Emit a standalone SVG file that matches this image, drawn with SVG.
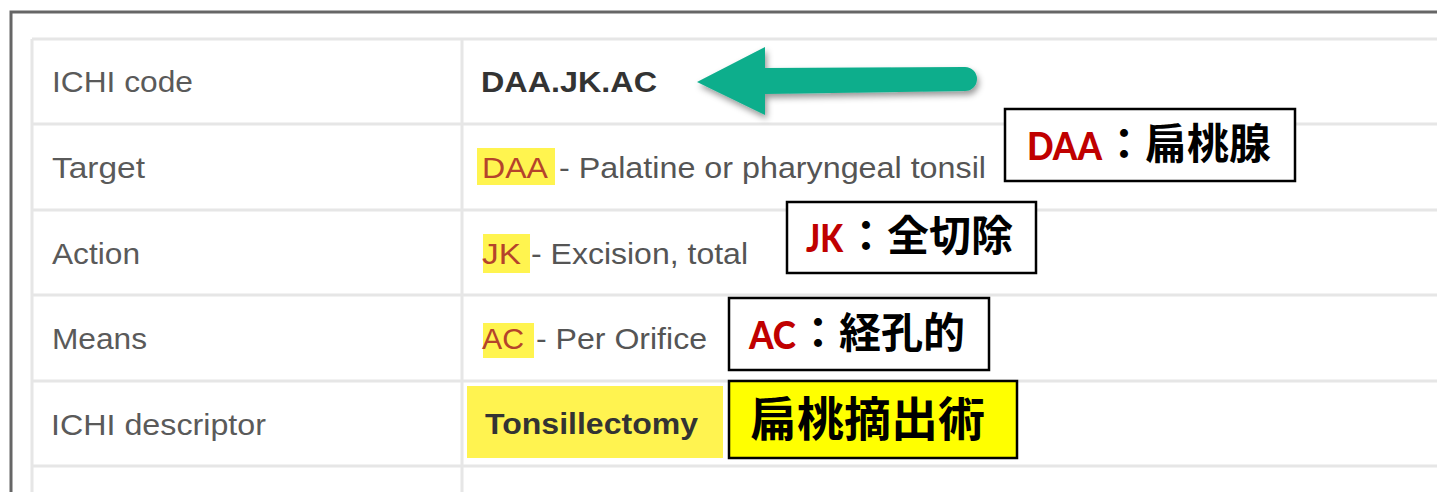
<svg xmlns="http://www.w3.org/2000/svg" width="1437" height="492" viewBox="0 0 1437 492">
<defs>
<style>
.grid{stroke:#e6e6e6;stroke-width:3;fill:none}
.lbl{font-family:"Liberation Sans",Arial,sans-serif;font-size:29px;fill:#5a5a5a}
.val{font-family:"Liberation Sans",Arial,sans-serif;font-size:29px;fill:#555}
.bold{font-family:"Liberation Sans",Arial,sans-serif;font-size:29px;font-weight:700;fill:#333}
.code{fill:#b5432b}
.hl{fill:#fff44f}
.box{fill:#fff;stroke:#000;stroke-width:2.5}
.lat{font-family:Lato,"Open Sans",sans-serif;font-weight:900;font-size:38px;fill:#c00000}
.cjk{font-family:"Noto Sans CJK JP","Noto Sans CJK SC",sans-serif;font-weight:700;font-size:42px;fill:#000}
</style>
<filter id="sh" x="-10%" y="-30%" width="130%" height="180%">
<feDropShadow dx="2" dy="4" stdDeviation="3" flood-color="#000" flood-opacity="0.4"/>
</filter>
</defs>
<rect width="1437" height="492" fill="#fff"/>
<g id="frame">
<path d="M11,492 V12 H1437" fill="none" stroke="#666" stroke-width="3"/>
</g>
<g id="table">
<path class="grid" d="M32,39 H1437 M32,124 H1437 M32,210 H1437 M32,295 H1437 M32,381 H1437 M32,466 H1437 M32,39 V492 M462,39 V492"/>
</g>
<g id="labels">
<text class="lbl" x="52" y="92" textLength="141" lengthAdjust="spacingAndGlyphs">ICHI code</text>
<text class="lbl" x="52" y="178" textLength="93" lengthAdjust="spacingAndGlyphs">Target</text>
<text class="lbl" x="52" y="264" textLength="88" lengthAdjust="spacingAndGlyphs">Action</text>
<text class="lbl" x="52" y="349" textLength="95" lengthAdjust="spacingAndGlyphs">Means</text>
<text class="lbl" x="51" y="435" textLength="215" lengthAdjust="spacingAndGlyphs">ICHI descriptor</text>
</g>
<g id="row-code">
<text class="bold" x="481" y="92" textLength="176" lengthAdjust="spacingAndGlyphs">DAA.JK.AC</text>
</g>
<g id="row-target">
<rect class="hl" x="477" y="148" width="78" height="37"/>
<text class="val" y="178"><tspan class="code" x="482" textLength="66" lengthAdjust="spacingAndGlyphs">DAA</tspan><tspan x="559" textLength="427" lengthAdjust="spacingAndGlyphs">- Palatine or pharyngeal tonsil</tspan></text>
</g>
<g id="row-action">
<rect class="hl" x="483" y="234" width="47" height="39"/>
<text class="val" y="264"><tspan class="code" x="482" textLength="39" lengthAdjust="spacingAndGlyphs">JK</tspan><tspan x="531" textLength="217" lengthAdjust="spacingAndGlyphs">- Excision, total</tspan></text>
</g>
<g id="row-means">
<rect class="hl" x="483" y="323" width="51" height="35"/>
<text class="val" y="349"><tspan class="code" x="482" textLength="42" lengthAdjust="spacingAndGlyphs">AC</tspan><tspan x="536" textLength="171" lengthAdjust="spacingAndGlyphs">- Per Orifice</tspan></text>
</g>
<g id="row-descriptor">
<rect x="467" y="386" width="256" height="72" fill="#fff350"/>
<text class="bold" x="485" y="434" textLength="213" lengthAdjust="spacingAndGlyphs">Tonsillectomy</text>
</g>
<g id="connectors">
<path d="M697,82 L765,47 L765,68 L965,67 A12,12 0 0 1 965,91 L765,94 L765,115 Z" fill="#0bae8c" filter="url(#sh)"/>
</g>
<g id="note-daa">
<rect class="box" x="1005" y="109" width="290" height="72"/>
<text class="cjk" y="159"><tspan class="lat" x="1027" y="160" textLength="75" lengthAdjust="spacingAndGlyphs">DAA</tspan><tspan x="1103" y="159">：扁桃腺</tspan></text>
</g>
<g id="note-jk">
<rect class="box" x="787" y="202" width="249" height="71"/>
<text class="cjk" y="251"><tspan class="lat" x="806" y="252" textLength="37" lengthAdjust="spacingAndGlyphs">JK</tspan><tspan x="845" y="251">：全切除</tspan></text>
</g>
<g id="note-ac">
<rect class="box" x="729" y="298" width="260" height="72"/>
<text class="cjk" y="348"><tspan class="lat" x="749" y="349" textLength="47" lengthAdjust="spacingAndGlyphs">AC</tspan><tspan x="797" y="348">：経孔的</tspan></text>
</g>
<g id="note-desc">
<rect x="729" y="381" width="288" height="77" fill="#ffff00" stroke="#000" stroke-width="2.5"/>
<text class="cjk" x="750" y="436" style="font-size:47px">扁桃摘出術</text>
</g>
</svg>
